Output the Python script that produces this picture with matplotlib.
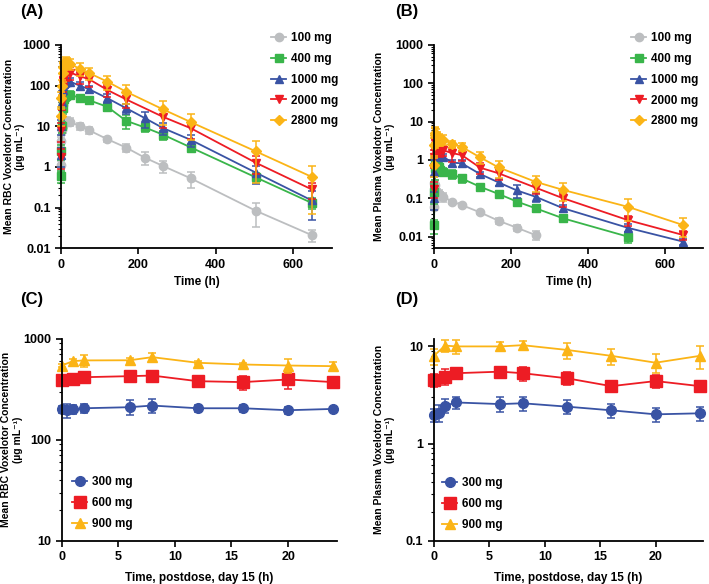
import numpy as np
import matplotlib
matplotlib.use("Agg")
import matplotlib.pyplot as plt
from matplotlib.lines import Line2D

plt.rcParams['font.family'] = ['Liberation Sans', 'DejaVu Sans']
plt.rcParams['font.weight'] = 'bold'

# --- single dose, panels A (RBC) and B (plasma) ---
t_full = [0.5, 1, 2, 4, 6, 8, 12, 16, 24, 48, 72, 120, 168, 216, 264, 336, 504, 648]
t_no216 = [0.5, 1, 2, 4, 6, 8, 12, 16, 24, 48, 72, 120, 168, 264, 336, 504, 648]
t_to264 = [0.5, 1, 2, 4, 6, 8, 12, 16, 24, 48, 72, 120, 168, 216, 264]
t_to504 = [0.5, 1, 2, 4, 6, 8, 12, 16, 24, 48, 72, 120, 168, 216, 264, 336, 504]

sd_doses = ['100 mg', '400 mg', '1000 mg', '2000 mg', '2800 mg']
sd_colors = ['#bcbec0', '#39b54a', '#3953a4', '#ed1c24', '#fbb416']
sd_markers = ['o', 's', '^', 'v', 'D']
sd_msize = [6, 6, 6, 6, 5]

# RBC
rbc_t = [t_full, t_full, t_full, t_no216, t_no216]
rbc_mean = [
    [1.1, 4.3, 8, 10, 11, 12, 13, 13.5, 13, 10, 8, 4.8, 3.0, 1.7, 1.05, 0.52, 0.083, 0.021],
    [0.6, 2.5, 10, 28, 40, 48, 55, 58, 60, 50, 44, 30, 13.7, 9.4, 6.2, 3.0, 0.55, 0.13],
    [2, 10, 40, 80, 100, 110, 120, 125, 125, 100, 82, 49, 28, 16, 9, 4.6, 0.72, 0.15],
    [1.8, 8, 40, 110, 140, 170, 200, 210, 210, 170, 145, 78, 46, 17, 8.9, 1.26, 0.28],
    [18, 50, 100, 200, 290, 350, 380, 370, 340, 260, 205, 125, 71, 26, 12.6, 2.4, 0.57],
]
rbc_sd = [
    [0.3, 1.2, 2, 3, 3, 3, 3, 3, 3, 2, 1.5, 0.6, 0.7, 0.6, 0.35, 0.22, 0.05, 0.007],
    [0.2, 1, 3, 8, 10, 10, 12, 12, 12, 8, 6, 6, 5, 2, 1.5, 0.6, 0.15, 0.04],
    [1, 4, 15, 20, 25, 25, 25, 25, 25, 20, 15, 12, 8, 7, 3, 1.5, 0.35, 0.1],
    [0.9, 4, 15, 40, 50, 60, 70, 70, 70, 60, 50, 25, 18, 8, 4, 0.6, 0.12],
    [8, 20, 40, 80, 100, 110, 120, 120, 100, 90, 70, 45, 35, 15, 8, 2, 0.5],
]

# plasma
pl_t = [t_to264, t_to504, t_full, t_no216, t_no216]
pl_mean = [
    [0.06, 0.25, 0.22, 0.18, 0.15, 0.14, 0.13, 0.12, 0.11, 0.082, 0.067, 0.043, 0.026, 0.017, 0.011],
    [0.02, 0.15, 0.6, 1.0, 0.85, 0.75, 0.65, 0.55, 0.5, 0.43, 0.33, 0.2, 0.13, 0.082, 0.055, 0.03, 0.01],
    [0.1, 0.5, 1.3, 1.5, 1.4, 1.35, 1.3, 1.25, 1.22, 0.85, 0.82, 0.43, 0.26, 0.16, 0.11, 0.055, 0.017, 0.0074],
    [0.18, 1.2, 3.2, 2.8, 2.4, 2.1, 1.9, 1.7, 1.8, 1.5, 1.35, 0.63, 0.45, 0.19, 0.1, 0.027, 0.011],
    [0.75, 2.5, 4.5, 5.0, 4.5, 4.0, 3.5, 3.3, 3.4, 2.6, 2.2, 1.17, 0.64, 0.27, 0.165, 0.06, 0.02],
]
pl_sd = [
    [0.04, 0.1, 0.08, 0.06, 0.05, 0.04, 0.03, 0.03, 0.03, 0.01, 0.008, 0.005, 0.004, 0.003, 0.003],
    [0.008, 0.08, 0.3, 0.4, 0.3, 0.25, 0.2, 0.15, 0.1, 0.12, 0.08, 0.03, 0.02, 0.012, 0.012, 0.005, 0.003],
    [0.05, 0.3, 0.5, 0.5, 0.4, 0.35, 0.3, 0.3, 0.2, 0.15, 0.15, 0.07, 0.05, 0.06, 0.03, 0.01, 0.004, 0.0015],
    [0.08, 0.6, 1.2, 1.0, 0.8, 0.7, 0.6, 0.5, 0.5, 0.6, 0.4, 0.2, 0.15, 0.06, 0.04, 0.008, 0.003],
    [0.4, 1.2, 2.5, 2.2, 1.8, 1.5, 1.2, 1.0, 1.0, 0.6, 0.5, 0.4, 0.3, 0.12, 0.08, 0.035, 0.01],
]

# --- multiple dose day 15, panels C (RBC) and D (plasma) ---
md_doses = ['300 mg', '600 mg', '900 mg']
md_colors = ['#3953a4', '#ed1c24', '#fbb416']
md_markers = ['o', 's', '^']
md_msize = [7, 8, 7]

c_t = [[0, 0.5, 1, 2, 6, 8, 12, 16, 20, 24],
       [0, 1, 2, 6, 8, 12, 16, 20, 24],
       [0, 1, 2, 6, 8, 12, 16, 20, 24]]
c_mean = [[200, 195, 200, 205, 210, 218, 205, 205, 196, 202],
          [388, 400, 416, 426, 432, 380, 372, 395, 372],
          [543, 600, 610, 612, 657, 578, 556, 543, 535]]
c_sd = [[15, 30, 20, 20, 35, 35, 15, 18, 15, 8],
        [30, 30, 40, 45, 45, 40, 60, 75, 25],
        [20, 25, 80, 30, 60, 20, 20, 80, 50]]

d_t = [[0, 0.5, 1, 2, 6, 8, 12, 16, 20, 24],
       [0, 1, 2, 6, 8, 12, 16, 20, 24],
       [0, 1, 2, 6, 8, 12, 16, 20, 24]]
d_mean = [[1.95, 2.07, 2.45, 2.65, 2.55, 2.6, 2.4, 2.2, 2.0, 2.05],
          [4.5, 4.9, 5.3, 5.5, 5.3, 4.7, 3.9, 4.4, 3.9],
          [8.0, 10.2, 10.0, 10.0, 10.3, 9.2, 8.0, 6.8, 8.0]]
d_sd = [[0.3, 0.4, 0.4, 0.4, 0.45, 0.45, 0.4, 0.35, 0.35, 0.35],
        [0.7, 0.9, 0.6, 0.6, 0.9, 0.7, 0.5, 0.7, 0.5],
        [1.5, 1.5, 1.6, 1.0, 1.2, 1.7, 1.5, 1.5, 2.2]]


def draw(ax, times, means, sds, colors, markers, msizes, labels):
    handles = []
    for t, m, s, c, mk, ms, lab in zip(times, means, sds, colors, markers, msizes, labels):
        ax.errorbar(t, m, yerr=s, fmt='none', ecolor=c, elinewidth=1.1,
                    capsize=3, capthick=1.1, clip_on=False)
        ax.plot(t, m, color=c, lw=1.3, marker=mk, ms=ms, mec=c, clip_on=False)
        handles.append(Line2D([], [], color=c, lw=1.3, marker=mk, ms=ms, mec=c, label=lab))
    return handles


def style(ax):
    ax.set_yscale('log')
    for side in ['top', 'right']:
        ax.spines[side].set_visible(False)
    for side in ['left', 'bottom']:
        ax.spines[side].set_linewidth(1.3)
    ax.tick_params(which='major', direction='out', length=4, width=1.2, labelsize=9)
    ax.tick_params(which='minor', direction='out', length=2, width=0.8)
    ax.tick_params(axis='x', which='minor', length=0)


fig = plt.figure(figsize=(7.09, 5.84), dpi=100)

axA = fig.add_axes([0.086, 0.575, 0.382, 0.348])
axB = fig.add_axes([0.612, 0.575, 0.380, 0.348])
axC = fig.add_axes([0.087, 0.074, 0.388, 0.346])
axD = fig.add_axes([0.612, 0.074, 0.380, 0.346])

hA = draw(axA, rbc_t, rbc_mean, rbc_sd, sd_colors, sd_markers, sd_msize, sd_doses)
hB = draw(axB, pl_t, pl_mean, pl_sd, sd_colors, sd_markers, sd_msize, sd_doses)
hC = draw(axC, c_t, c_mean, c_sd, md_colors, md_markers, md_msize, md_doses)
hD = draw(axD, d_t, d_mean, d_sd, md_colors, md_markers, md_msize, md_doses)

for ax in [axA, axB]:
    style(ax)
    ax.set_xlim(0, 700)
    ax.set_xticks([0, 200, 400, 600])
    ax.set_xlabel('Time (h)', fontsize=8.5, fontweight='bold', labelpad=4)
axA.set_ylim(0.01, 1000)
axA.set_yticks([0.01, 0.1, 1, 10, 100, 1000])
axA.set_yticklabels(['0.01', '0.1', '1', '10', '100', '1000'])
axB.set_ylim(0.005, 1000)
axB.set_yticks([0.01, 0.1, 1, 10, 100, 1000])
axB.set_yticklabels(['0.01', '0.1', '1', '10', '100', '1000'])

for ax in [axC, axD]:
    style(ax)
    ax.set_xlim(0, 24.3)
    ax.set_xticks([0, 5, 10, 15, 20])
    ax.set_xlabel('Time, postdose, day 15 (h)', fontsize=8.5, fontweight='bold', labelpad=6)
axC.set_ylim(10, 1000)
axC.set_yticks([10, 100, 1000])
axC.set_yticklabels(['10', '100', '1000'])
axD.set_ylim(0.1, 12)
axD.set_yticks([0.1, 1, 10])
axD.set_yticklabels(['0.1', '1', '10'])

for ax in [axA, axB, axC, axD]:
    for lbl in ax.get_xticklabels() + ax.get_yticklabels():
        lbl.set_fontweight('bold')

ylab_rbc = 'Mean RBC Voxelotor Concentration\n(µg mL⁻¹)'
ylab_pl = 'Mean Plasma Voxelotor Concentration\n(µg mL⁻¹)'
axA.set_ylabel(ylab_rbc, fontsize=7.5, fontweight='bold', linespacing=1.15)
axB.set_ylabel(ylab_pl, fontsize=7.5, fontweight='bold', linespacing=1.15)
axC.set_ylabel(ylab_rbc, fontsize=7.5, fontweight='bold', linespacing=1.15)
axD.set_ylabel(ylab_pl, fontsize=7.5, fontweight='bold', linespacing=1.15)
axA.yaxis.set_label_coords(-0.133, 0.5)
axB.yaxis.set_label_coords(-0.145, 0.5)
axC.yaxis.set_label_coords(-0.142, 0.5)
axD.yaxis.set_label_coords(-0.145, 0.5)

leg_kw = dict(frameon=False, loc='upper left', borderaxespad=0, borderpad=0,
              handlelength=1.3, handletextpad=0.4, labelspacing=0.75,
              prop={'weight': 'bold', 'size': 8.5})
fig.legend(handles=hA, bbox_transform=fig.transFigure,
           bbox_to_anchor=(271 / 709, 1 - 32 / 584), **leg_kw)
fig.legend(handles=hB, bbox_transform=fig.transFigure,
           bbox_to_anchor=(631 / 709, 1 - 32 / 584), **leg_kw)
fig.legend(handles=hC, bbox_transform=fig.transFigure,
           bbox_to_anchor=(72 / 709, 1 - 476 / 584), **leg_kw)
fig.legend(handles=hD, bbox_transform=fig.transFigure,
           bbox_to_anchor=(442 / 709, 1 - 477 / 584), **leg_kw)

for x, y, s in [(20, 4, '(A)'), (395, 4, '(B)'), (20, 292, '(C)'), (395, 292, '(D)')]:
    fig.text(x / 709, 1 - y / 584, s, fontsize=12, fontweight='bold', va='top', ha='left')

fig.savefig('out.png', dpi=100)
